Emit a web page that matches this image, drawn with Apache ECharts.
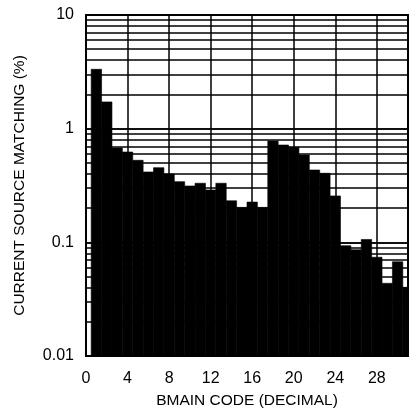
<!DOCTYPE html>
<html>
<head>
<meta charset="utf-8">
<script src="https://cdn.jsdelivr.net/npm/echarts@6/dist/echarts.min.js"></script>
<style>html,body{margin:0;padding:0;background:#fff}#c{width:419px;height:416px}</style>
</head>
<body>
<div id="c"></div>
<script>
const codes = [1,2,3,4,5,6,7,8,9,10,11,12,13,14,15,16,17,18,19,20,21,22,23,24,25,26,27,28,29,30,31];
const matching = [3.33,1.72,0.676,0.623,0.527,0.416,0.454,0.399,0.342,0.313,0.331,0.289,0.331,0.232,0.203,0.226,0.203,0.779,0.718,0.686,0.587,0.433,0.405,0.256,0.0934,0.0861,0.106,0.0739,0.0436,0.0675,0.0402];
const xTicks = [0,4,8,12,16,20,24,28];
const yTicks = [0.01,0.1,1,10];
const yGridValues = [0.02,0.03,0.04,0.05,0.06,0.07,0.08,0.09,0.1,0.2,0.3,0.4,0.5,0.6,0.7,0.8,0.9,1,2,3,4,5,6,7,8,9];

const FONT = '"Liberation Sans", Arial, Helvetica, sans-serif';
const chart = echarts.init(document.getElementById('c'), null, {renderer:'canvas'});
const yMin = 0.01;
chart.setOption({
  animation: false,
  backgroundColor: '#fff',
  grid: {left: 86, top: 15, width: 322, height: 341, show: true, borderColor: '#000', borderWidth: 2, backgroundColor: 'transparent'},
  xAxis: {
    type: 'value', min: 0, max: 31, interval: 4,
    name: 'BMAIN CODE (DECIMAL)', nameLocation: 'middle', nameGap: 37,
    nameTextStyle: {color: '#000', fontSize: 15.5, fontFamily: FONT},
    axisLine: {show: true, lineStyle: {color: '#000', width: 2}},
    axisTick: {show: false},
    axisLabel: {color: '#000', fontSize: 16, fontFamily: FONT, margin: 15,
      formatter: v => xTicks.indexOf(v) >= 0 ? String(v) : ''},
    splitLine: {show: true, lineStyle: {color: '#000', width: 1.5}}
  },
  yAxis: {
    type: 'log', logBase: 10, min: 0.01, max: 10,
    name: 'CURRENT SOURCE MATCHING (%)', nameLocation: 'middle', nameGap: 58,
    nameTextStyle: {color: '#000', fontSize: 15.5, fontFamily: FONT},
    axisLine: {show: true, lineStyle: {color: '#000', width: 2}},
    axisTick: {show: false},
    axisLabel: {color: '#000', fontSize: 16, fontFamily: FONT, margin: 12,
      formatter: v => { const t = yTicks.find(k => Math.abs(k - v) / k < 1e-6); return t === undefined ? '' : String(t); }},
    splitLine: {show: true, lineStyle: {color: '#000', width: 1.5}}
  },
  series: [
    {
      type: 'custom',
      data: codes.map((c, i) => [c, matching[i]]),
      renderItem: function (params, api) {
        const x = api.value(0), v = api.value(1);
        const p1 = api.coord([x - 0.5, v]);
        const p2 = api.coord([x + 0.5, yMin]);
        const cs = params.coordSys;
        const rect = echarts.graphic.clipRectByRect(
          {x: p1[0], y: p1[1], width: p2[0] - p1[0], height: p2[1] - p1[1]},
          {x: cs.x, y: cs.y, width: cs.width, height: cs.height});
        if (!rect) return null;
        return {type: 'rect', shape: rect, style: {fill: '#000', stroke: '#000', lineWidth: 0.6}};
      },
      z: 2
    },
    {
      type: 'line', data: [], z: 3,
      markLine: {
        silent: true, symbol: 'none', animation: false,
        label: {show: false},
        lineStyle: {color: '#000', width: 1.5, type: 'solid'},
        data: yGridValues.map(v => ({yAxis: v}))
      }
    }
  ]
});
</script>
</body>
</html>
